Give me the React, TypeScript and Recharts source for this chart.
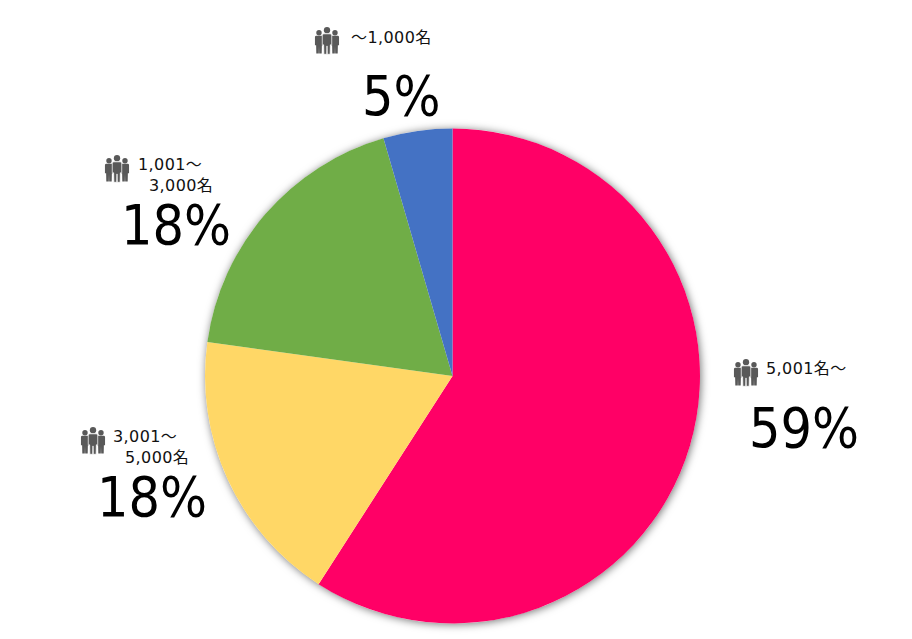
import { PieChart, Pie, Cell } from 'recharts';

const categories = ['5,001名～', '3,001～5,000名', '1,001～3,000名', '～1,000名'];
const shares = [59.1, 18.1, 18.3, 4.5];
const percentLabels = ['59%', '18%', '18%', '5%'];
const colors = ['#ff0066', '#ffd766', '#70ad47', '#4472c4'];

const data = categories.map((name, i) => ({ name, value: shares[i] }));
const backing = [{ name: 'all', value: 100 }];

// where each label block sits on the page
const labelLayout = [
  { icon: [734, 359], lines: [['5,001名～', 766, 374]], pct: [749, 447] },
  { icon: [81, 427], lines: [['3,001～', 113, 442], ['5,000名', 125, 463]], pct: [97, 516] },
  { icon: [105, 155], lines: [['1,001～', 138, 170], ['3,000名', 149, 191]], pct: [121, 244] },
  { icon: [315, 27], lines: [['～1,000名', 351, 43]], pct: [362, 115] },
];

const smallFont = '"DejaVu Sans", "Noto Sans CJK JP", sans-serif';
const bigFont = '"DejaVu Sans Condensed", "DejaVu Sans", sans-serif';

function Person({ x, y, s, outline }: { x: number; y: number; s: number; outline?: boolean }) {
  return (
    <g
      transform={`translate(${x},${y}) scale(${s})`}
      fill="#595959"
      stroke={outline ? '#fff' : 'none'}
      strokeWidth={0.7}
    >
      <circle cx={0} cy={3} r={3} stroke="none" />
      <path d="M-4.5 8 Q-4.5 6.5 -3 6.5 L3 6.5 Q4.5 6.5 4.5 8 L4.5 17 L3.2 17 L3 26 L0.2 26 L0 18 L-0.2 26 L-3 26 L-3.2 17 L-4.5 17 Z" />
    </g>
  );
}

function PeopleIcon({ x, y }: { x: number; y: number }) {
  return (
    <g>
      <Person x={x + 4} y={y + 3} s={0.9} />
      <Person x={x + 20} y={y + 3} s={0.9} />
      <Person x={x + 12} y={y} s={1.05} outline />
    </g>
  );
}

function renderLabel(props: any) {
  const i = props.index as number;
  const l = labelLayout[i];
  return (
    <g key={i}>
      <PeopleIcon x={l.icon[0]} y={l.icon[1]} />
      {l.lines.map(([t, x, y]) => (
        <text key={t as string} x={x as number} y={y as number} fontSize={16} letterSpacing={0.4} fontFamily={smallFont} fill="#111">
          {t}
        </text>
      ))}
      <text x={l.pct[0]} y={l.pct[1]} fontSize={55} fontFamily={bigFont} fill="#000">
        {percentLabels[i]}
      </text>
    </g>
  );
}

export default function App() {
  return (
    <div style={{ position: 'absolute', left: 0, top: 0, width: 912, height: 639, background: '#fff' }}>
      <PieChart width={912} height={639} margin={{ top: 0, right: 0, bottom: 0, left: 0 }}>
        <Pie
          data={backing}
          dataKey="value"
          cx={452.5}
          cy={376}
          outerRadius={247.5}
          startAngle={90}
          endAngle={-270}
          stroke="none"
          fill="#fff"
          style={{ filter: 'drop-shadow(1px 1px 4px rgba(0,0,0,0.55))' }}
          isAnimationActive={false}
        />
        <Pie
          data={data}
          dataKey="value"
          cx={452.5}
          cy={376}
          outerRadius={247.5}
          startAngle={90}
          endAngle={-270}
          stroke="none"
          label={renderLabel}
          labelLine={false}
          isAnimationActive={false}
        >
          {data.map((d, i) => (
            <Cell key={d.name} fill={colors[i]} />
          ))}
        </Pie>
      </PieChart>
    </div>
  );
}
